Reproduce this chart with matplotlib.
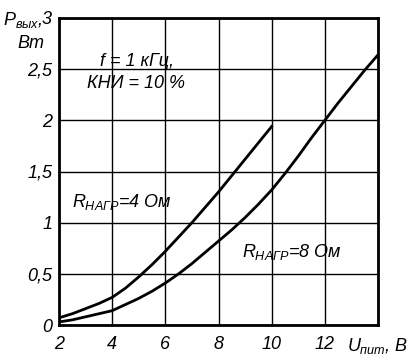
import matplotlib.pyplot as plt

plt.rcParams['font.family'] = ['Liberation Sans', 'DejaVu Sans']
plt.rcParams['font.style'] = 'italic'
plt.rcParams['mathtext.fontset'] = 'custom'
plt.rcParams['mathtext.rm'] = 'Liberation Sans:italic'
plt.rcParams['mathtext.it'] = 'Liberation Sans:italic'
plt.rcParams['mathtext.bf'] = 'Liberation Sans:italic'

# supply voltage, V -> output power, W
u_4ohm = [2, 2.5, 3, 3.5, 4, 4.5, 5, 5.5, 6, 6.5, 7, 7.5, 8, 8.5, 9, 9.5, 10]
p_4ohm = [0.07, 0.11, 0.16, 0.21, 0.27, 0.36, 0.47, 0.59, 0.72, 0.86, 1.0,
          1.15, 1.3, 1.46, 1.62, 1.78, 1.94]

u_8ohm = [2, 2.5, 3, 3.5, 4, 4.5, 5, 5.5, 6, 6.5, 7, 7.5, 8, 8.5, 9, 9.5, 10,
          10.5, 11, 11.5, 12, 12.5, 13, 13.5, 14]
p_8ohm = [0.03, 0.05, 0.08, 0.11, 0.14, 0.2, 0.26, 0.33, 0.41, 0.5, 0.6, 0.71,
          0.82, 0.93, 1.05, 1.18, 1.32, 1.48, 1.65, 1.83, 2.0, 2.17, 2.33, 2.49, 2.64]

x_ticks = [2, 4, 6, 8, 10, 12, 14]
x_labels = ['2', '4', '6', '8', '10', '12', '$U_{пит}$, В']
y_ticks = [0, 0.5, 1, 1.5, 2, 2.5, 3]
y_labels = ['0', '0,5', '1', '1,5', '2', '2,5', '3']

FS = 13

fig = plt.figure(figsize=(4.18, 3.58), dpi=100)
ax = fig.add_axes([59 / 418, 1 - 325 / 358, 319 / 418, 307 / 358])

ax.plot(u_4ohm, p_4ohm, color='black', lw=2)
ax.plot(u_8ohm, p_8ohm, color='black', lw=2)

ax.set_xlim(2, 14)
ax.set_ylim(0, 3)
ax.set_xticks(x_ticks)
ax.set_xticklabels(x_labels, fontsize=FS)
ax.set_yticks(y_ticks)
ax.set_yticklabels(y_labels, fontsize=FS)
ax.tick_params(length=0)
ax.tick_params(axis='x', pad=8)
ax.tick_params(axis='y', pad=5)
ax.grid(True, color='black', lw=1)
for s in ax.spines.values():
    s.set_linewidth(2)

fig.text(3 / 418, 1 - 20 / 358, '$P_{вых}$,', fontsize=FS, va='center', ha='left')
fig.text(17 / 418, 1 - 43 / 358, 'Вт', fontsize=FS, va='center', ha='left')


def px(x, y):
    return 2.0 + (x - 59) / 26.58, (325 - y) / 102.3


ax.text(*px(137, 62), 'f = 1 кГц,', fontsize=FS, ha='center', va='center')
ax.text(*px(136, 84), 'КНИ = 10 %', fontsize=FS, ha='center', va='center')
ax.text(*px(72, 202), '$R_{НАГР}$=4 Ом', fontsize=FS, ha='left', va='center')
ax.text(*px(242, 252), '$R_{НАГР}$=8 Ом', fontsize=FS, ha='left', va='center')

fig.savefig('out.png', dpi=100)
